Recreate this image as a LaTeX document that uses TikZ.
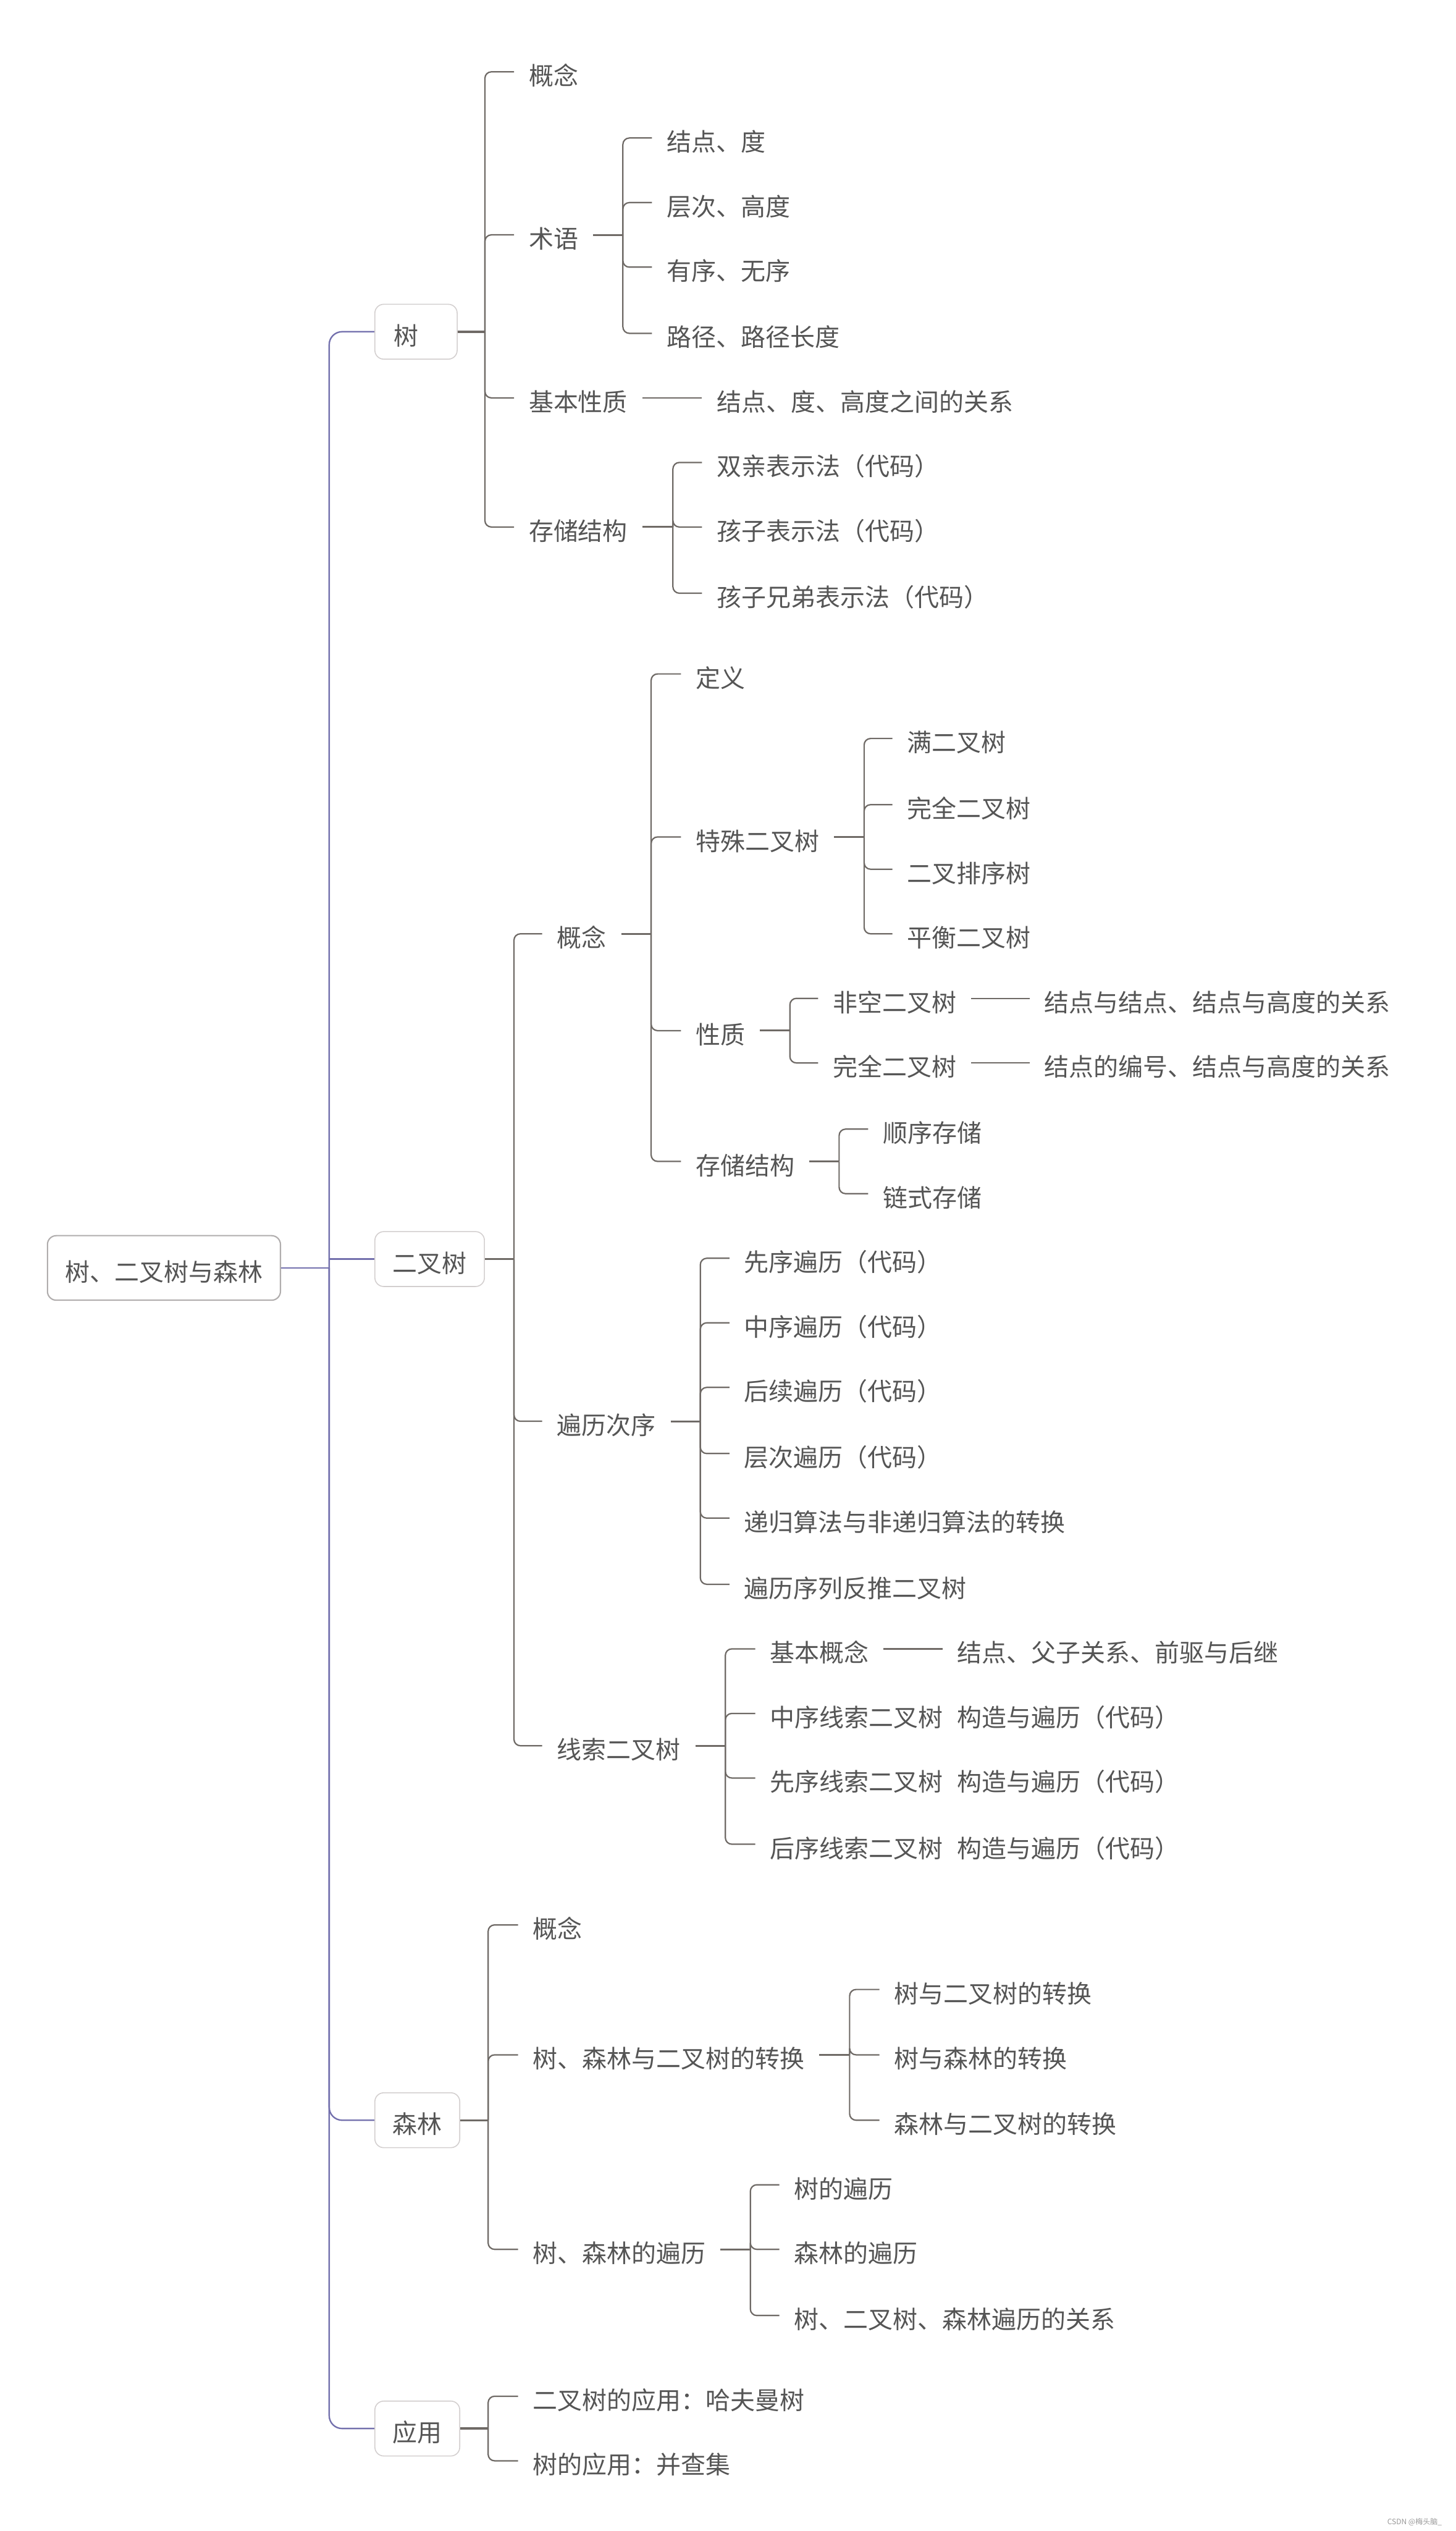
\documentclass[tikz,border=0pt]{standalone}
\usepackage{fontspec}
\setmainfont{Noto Sans CJK SC}
\definecolor{txt}{HTML}{555555}
\definecolor{brc}{HTML}{6F6A66}
\definecolor{puc}{HTML}{7370AD}
\definecolor{bxc}{HTML}{D3CFCF}
\definecolor{rbxc}{HTML}{B0ADAD}
\definecolor{wmc}{HTML}{999999}
\newcommand{\gapsp}{\hspace*{9pt}}
\begin{document}
\begin{tikzpicture}[x=1pt,y=-1pt,
 t/.style={anchor=west, inner xsep=9pt, inner ysep=0pt, text height=17pt, text depth=0.5pt, text=txt, font=\fontsize{15.3}{18}\selectfont},
 box/.style={t, draw=bxc, line width=0.6pt, rounded corners=5.5pt, inner xsep=11pt, minimum height=34pt, fill=white},
 rootbox/.style={box, draw=rbxc, line width=0.8pt, minimum height=40pt},
 ln/.style={draw=brc, line width=0.85pt, rounded corners=4pt},
 stub/.style={draw=brc, line width=1.1pt},
 bstub/.style={draw=brc, line width=1.3pt},
 pl/.style={draw=puc, line width=0.9pt, rounded corners=8pt},
]
\fill[white] (0,0) rectangle (902,1568);
\useasboundingbox (0,0) rectangle (902,1568);

% ---------- level 0 / 1
\node[rootbox] (root) at (29,785.5) {树、二叉树与森林};
\node[box, minimum width=51pt] (shu) at (232,205.5) {树\hspace*{12pt}};
\node[box] (ect) at (232,780) {二叉树};
\node[box] (sl) at (232,1313.5) {森林};
\node[box] (yy) at (232,1504.5) {应用};

\coordinate (J0) at (204,0 |- root.east);
\draw[pl] (root.east) -- (J0);
\draw[pl] (J0) |- (shu.west);
\draw[pl,sharp corners] (J0) |- (ect.west);
\draw[pl] (J0) |- (sl.west);
\draw[pl] (J0) |- (yy.west);

% ---------- 树
\node[t] (a1) at (318.5,44.5) {概念};
\node[t] (a2) at (318.5,145.5) {术语};
\node[t] (a3) at (318.5,246.5) {基本性质};
\node[t] (a4) at (318.5,326.5) {存储结构};
\coordinate (ja) at (300.5,0 |- shu.east);
\draw[bstub] (shu.east) -- (ja);
\foreach \c in {a1,a2,a3,a4} \draw[ln] (ja) |- (\c.west);

\node[t] (a21) at (404,85.5) {结点、度};
\node[t] (a22) at (404,125.5) {层次、高度};
\node[t] (a23) at (404,165.5) {有序、无序};
\node[t] (a24) at (404,206.5) {路径、路径长度};
\coordinate (ja2) at (386,0 |- a2.east);
\draw[stub] (a2.east) -- (ja2);
\foreach \c in {a21,a22,a23,a24} \draw[ln] (ja2) |- (\c.west);

\node[t] (a31) at (435,246.5) {结点、度、高度之间的关系};
\draw[ln] (a3.east) -- (a31.west);

\node[t] (a41) at (435,286.5) {双亲表示法（代码）};
\node[t] (a42) at (435,326.5) {孩子表示法（代码）};
\node[t] (a43) at (435,367.5) {孩子兄弟表示法（代码）};
\coordinate (ja4) at (417,0 |- a4.east);
\draw[stub] (a4.east) -- (ja4);
\foreach \c in {a41,a42,a43} \draw[ln] (ja4) |- (\c.west);

% ---------- 二叉树
\node[t] (b1) at (336,578.5) {概念};
\node[t] (b2) at (336,880.5) {遍历次序};
\node[t] (b3) at (336,1081.5) {线索二叉树};
\coordinate (jb) at (318.5,0 |- ect.east);
\draw[bstub] (ect.east) -- (jb);
\foreach \c in {b1,b2,b3} \draw[ln] (jb) |- (\c.west);

\node[t] (b11) at (422,417.5) {定义};
\node[t] (b12) at (422,518.5) {特殊二叉树};
\node[t] (b13) at (422,638.5) {性质};
\node[t] (b14) at (422,719.5) {存储结构};
\coordinate (jb1) at (403.5,0 |- b1.east);
\draw[stub] (b1.east) -- (jb1);
\foreach \c in {b11,b12,b13,b14} \draw[ln] (jb1) |- (\c.west);

\node[t] (b121) at (553,457.5) {满二叉树};
\node[t] (b122) at (553,498.5) {完全二叉树};
\node[t] (b123) at (553,538.5) {二叉排序树};
\node[t] (b124) at (553,578.5) {平衡二叉树};
\coordinate (jb12) at (535.5,0 |- b12.east);
\draw[stub] (b12.east) -- (jb12);
\foreach \c in {b121,b122,b123,b124} \draw[ln] (jb12) |- (\c.west);

\node[t] (b131) at (507,618.5) {非空二叉树};
\node[t] (b132) at (507,658.5) {完全二叉树};
\coordinate (jb13) at (489.5,0 |- b13.east);
\draw[stub] (b13.east) -- (jb13);
\foreach \c in {b131,b132} \draw[ln] (jb13) |- (\c.west);
\node[t] (b1311) at (638,618.5) {结点与结点、结点与高度的关系};
\node[t] (b1321) at (638,658.5) {结点的编号、结点与高度的关系};
\draw[ln] (b131.east) -- (b1311.west);
\draw[ln] (b132.east) -- (b1321.west);

\node[t] (b141) at (538,699.5) {顺序存储};
\node[t] (b142) at (538,739.5) {链式存储};
\coordinate (jb14) at (520,0 |- b14.east);
\draw[stub] (b14.east) -- (jb14);
\foreach \c in {b141,b142} \draw[ln] (jb14) |- (\c.west);

\node[t] (b21) at (452,779.5) {先序遍历（代码）};
\node[t] (b22) at (452,819.5) {中序遍历（代码）};
\node[t] (b23) at (452,859.5) {后续遍历（代码）};
\node[t] (b24) at (452,900.5) {层次遍历（代码）};
\node[t] (b25) at (452,940.5) {递归算法与非递归算法的转换};
\node[t] (b26) at (452,981.5) {遍历序列反推二叉树};
\coordinate (jb2) at (434,0 |- b2.east);
\draw[stub] (b2.east) -- (jb2);
\foreach \c in {b21,b22,b23,b24,b25,b26} \draw[ln] (jb2) |- (\c.west);

\node[t] (b31) at (468,1021.5) {基本概念};
\node[t] (b32) at (468,1061.5) {中序线索二叉树\gapsp 构造与遍历（代码）};
\node[t] (b33) at (468,1101.5) {先序线索二叉树\gapsp 构造与遍历（代码）};
\node[t] (b34) at (468,1142.5) {后序线索二叉树\gapsp 构造与遍历（代码）};
\coordinate (jb3) at (449.5,0 |- b3.east);
\draw[stub] (b3.east) -- (jb3);
\foreach \c in {b31,b32,b33,b34} \draw[ln] (jb3) |- (\c.west);
\node[t] (b311) at (584,1021.5) {结点、父子关系、前驱与后继};
\draw[ln] (b31.east) -- (b311.west);

% ---------- 森林
\node[t] (c1) at (321,1192.5) {概念};
\node[t] (c2) at (321,1273) {树、森林与二叉树的转换};
\node[t] (c3) at (321,1393.5) {树、森林的遍历};
\coordinate (jc) at (302.5,0 |- sl.east);
\draw[bstub] (sl.east) -- (jc);
\foreach \c in {c1,c2,c3} \draw[ln] (jc) |- (\c.west);

\node[t] (c21) at (545,1232.5) {树与二叉树的转换};
\node[t] (c22) at (545,1273) {树与森林的转换};
\node[t] (c23) at (545,1313.5) {森林与二叉树的转换};
\coordinate (jc2) at (526.5,0 |- c2.east);
\draw[stub] (c2.east) -- (jc2);
\foreach \c in {c21,c22,c23} \draw[ln] (jc2) |- (\c.west);

\node[t] (c31) at (483,1353.5) {树的遍历};
\node[t] (c32) at (483,1393.5) {森林的遍历};
\node[t] (c33) at (483,1434.5) {树、二叉树、森林遍历的关系};
\coordinate (jc3) at (465,0 |- c3.east);
\draw[stub] (c3.east) -- (jc3);
\foreach \c in {c31,c32,c33} \draw[ln] (jc3) |- (\c.west);

% ---------- 应用
\node[t] (d1) at (321,1484.5) {二叉树的应用：哈夫曼树};
\node[t] (d2) at (321,1524.5) {树的应用：并查集};
\coordinate (jd) at (302.5,0 |- yy.east);
\draw[bstub] (yy.east) -- (jd);
\foreach \c in {d1,d2} \draw[ln] (jd) |- (\c.west);

% watermark
\node[anchor=base west, inner sep=0pt, text=wmc, font=\fontsize{4.6}{5}\selectfont] (wm) at (859.5,1564) {CSDN @梅头脑\_};
\end{tikzpicture}
\end{document}
